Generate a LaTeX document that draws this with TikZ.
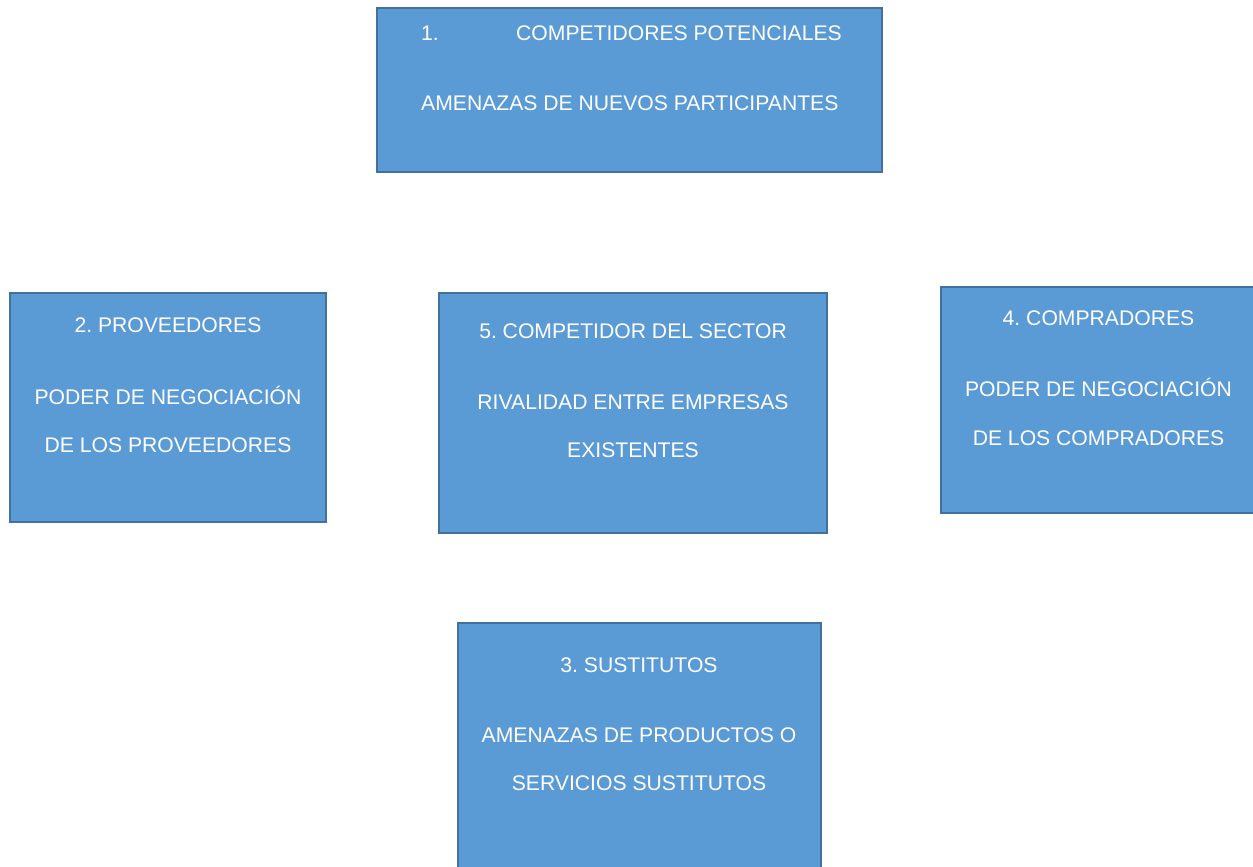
\documentclass[tikz,border=0pt]{standalone}
\usepackage{fontspec}
\setmainfont{Liberation Sans}
\frenchspacing
\definecolor{boxfill}{HTML}{5B9BD5}
\definecolor{boxline}{HTML}{41719C}
\begin{document}
\begin{tikzpicture}[x=1pt,y=-1pt,
  forcebox/.style={draw=boxline,fill=boxfill,line width=2pt},
  lbl/.style={text=white,inner sep=0pt,anchor=base,font=\fontsize{21.15}{24}\selectfont},
  lblw/.style={lbl,anchor=base west}]
\useasboundingbox (0,0) rectangle (1253,867);
\clip (0,0) rectangle (1253,867);
% the five forces
\draw[forcebox] (377,8) rectangle (882,172);
\draw[forcebox] (10,293) rectangle (326,522);
\draw[forcebox] (439,293) rectangle (827,533);
\draw[forcebox] (941,287) rectangle (1262,513);
\draw[forcebox] (458,623) rectangle (821,880);
% 1. potential entrants
\node[lblw] (t1a) at (421,40.6) {1.};
\node[lblw] (t1b) at (516,40.6) {COMPETIDORES POTENCIALES};
\node[lblw] (t1c) at (421,110.6) {AMENAZAS DE NUEVOS PARTICIPANTES};
% 2. suppliers
\node[lbl] (t2a) at (168,332.6) {2. PROVEEDORES};
\node[lbl] (t2b) at (168,404.6) {PODER DE NEGOCIACIÓN};
\node[lbl] (t2c) at (168,452.6) {DE LOS PROVEEDORES};
% 5. industry rivalry
\node[lbl] (t5a) at (633,338.6) {5. COMPETIDOR DEL SECTOR};
\node[lbl] (t5b) at (633,409.6) {RIVALIDAD ENTRE EMPRESAS};
\node[lbl] (t5c) at (633,457.6) {EXISTENTES};
% 4. buyers
\node[lbl] (t4a) at (1098.5,325.6) {4. COMPRADORES};
\node[lbl] (t4b) at (1098.5,396.6) {PODER DE NEGOCIACIÓN};
\node[lbl] (t4c) at (1098.5,445.6) {DE LOS COMPRADORES};
% 3. substitutes
\node[lbl] (t3a) at (639,672.6) {3. SUSTITUTOS};
\node[lbl] (t3b) at (639,742.6) {AMENAZAS DE PRODUCTOS O};
\node[lbl] (t3c) at (639,790.6) {SERVICIOS SUSTITUTOS};
\end{tikzpicture}
\end{document}
